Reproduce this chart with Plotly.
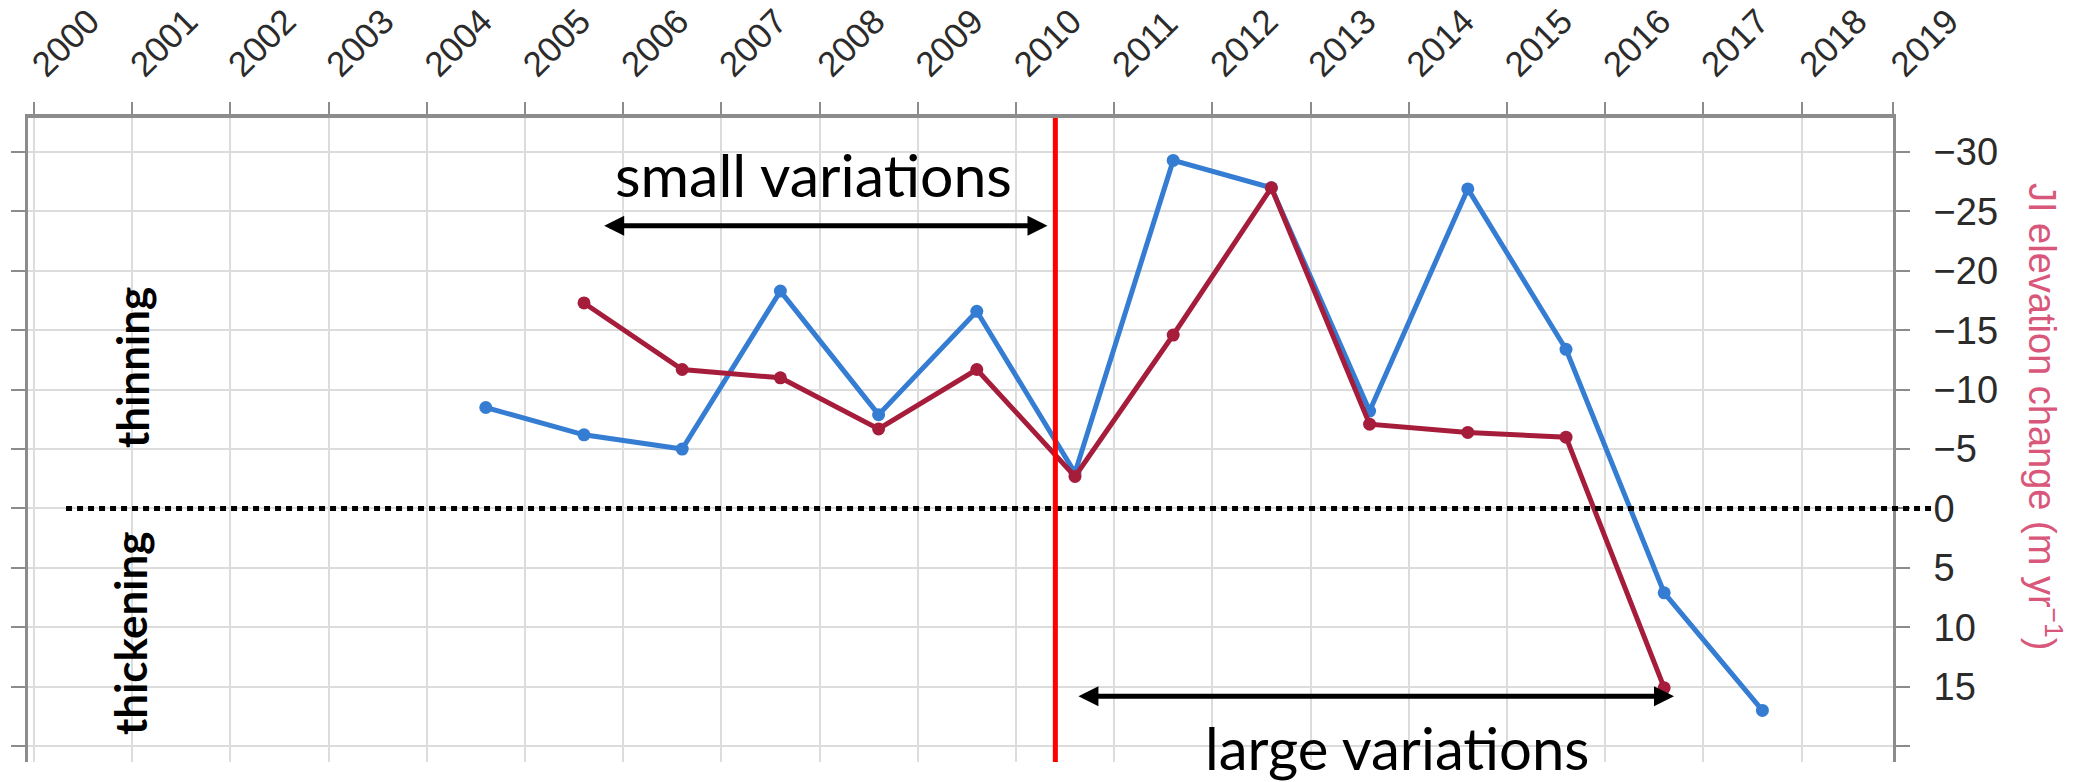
import plotly.graph_objects as go

# Annual elevation change (m/yr); negative = thinning, positive = thickening
blue_years = [2004.6, 2005.6, 2006.6, 2007.6, 2008.6, 2009.6, 2010.6,
              2011.6, 2012.6, 2013.6, 2014.6, 2015.6, 2016.6, 2017.6]
blue_change = [-8.5, -6.2, -5.0, -18.3, -7.9, -16.6, -3.0,
               -29.3, -27.0, -8.2, -26.9, -13.4, 7.1, 17.0]

red_years = [2005.6, 2006.6, 2007.6, 2008.6, 2009.6, 2010.6,
             2011.6, 2012.6, 2013.6, 2014.6, 2015.6, 2016.6]
red_change = [-17.3, -11.7, -11.0, -6.7, -11.7, -2.7,
              -14.6, -27.0, -7.1, -6.4, -6.0, 15.1]

year_labels = list(range(2000, 2020))
y_grid = [-30, -25, -20, -15, -10, -5, 0, 5, 10, 15, 20]
y_labeled = [-30, -25, -20, -15, -10, -5, 0, 5, 10, 15]

split_year = 2010.4          # regime change marker
small_span = (2005.79, 2010.32)
large_span = (2010.62, 2016.70)

BLUE = "#347dd3"
RED = "#a61d3c"
GRID = "#dcdcdc"
AXIS = "#8c8c8c"
TICK_FONT = dict(family="Liberation Sans", size=38, color="#2b2b2b")

x_range = [1999.938, 2018.93]
y_range = [21.34, -32.87]   # reversed: thinning plotted upward

fig = go.Figure()
fig.add_trace(go.Scatter(x=blue_years, y=blue_change, mode="lines+markers",
                         line=dict(color=BLUE, width=5),
                         marker=dict(color=BLUE, size=13)))
fig.add_trace(go.Scatter(x=red_years, y=red_change, mode="lines+markers",
                         line=dict(color=RED, width=5),
                         marker=dict(color=RED, size=13)))

x_tickvals = [min(max(y, x_range[0]), x_range[1]) for y in year_labels]
y_ticktext = [(("\u2212" + str(-v)) if v < 0 else str(v)) if v in y_labeled else ""
              for v in y_grid]

fig.update_layout(
    width=2080, height=782,
    margin=dict(l=28, r=187, t=118, b=20),
    paper_bgcolor="white", plot_bgcolor="white",
    showlegend=False,
    xaxis=dict(range=x_range, side="top", tickvals=x_tickvals, automargin=False,
               ticktext=[str(y) for y in year_labels], tickangle=-45,
               ticks="outside", ticklen=12, tickwidth=2, tickcolor=AXIS,
               ticklabelstandoff=4,
               showline=True, linecolor=AXIS, linewidth=4,
               showgrid=True, gridcolor=GRID, gridwidth=2, zeroline=False,
               tickfont=dict(TICK_FONT, size=35)),
    yaxis=dict(range=y_range, side="right", tickvals=y_grid, ticktext=y_ticktext,
               automargin=False,
               ticks="outside", ticklen=14, tickwidth=2, tickcolor=AXIS,
               ticklabelstandoff=16,
               showline=True, linecolor=AXIS, linewidth=3, mirror="ticks",
               showgrid=True, gridcolor=GRID, gridwidth=2, zeroline=False,
               tickfont=TICK_FONT),
)

# zero line separating thinning from thickening
fig.add_shape(type="line", xref="paper", yref="y", x0=0.0204, x1=1.0209, y0=0, y1=0,
              line=dict(color="black", width=5, dash="6px,5px"))
# regime split
fig.add_shape(type="line", xref="x", yref="paper", x0=split_year, x1=split_year,
              y0=0, y1=1.0, line=dict(color="#ff0000", width=5))

ann_font = dict(family="Lato", color="black")
fig.add_annotation(x=small_span[1], y=-23.8, ax=small_span[0], ay=-23.8,
                   xref="x", yref="y", axref="x", ayref="y", text="",
                   showarrow=True, arrowside="end+start", arrowhead=2,
                   arrowsize=0.8, arrowwidth=5, arrowcolor="black")
fig.add_annotation(x=large_span[1], y=15.8, ax=large_span[0], ay=15.8,
                   xref="x", yref="y", axref="x", ayref="y", text="",
                   showarrow=True, arrowside="end+start", arrowhead=2,
                   arrowsize=0.8, arrowwidth=5, arrowcolor="black")
fig.add_annotation(x=2007.94, y=-28.1, xref="x", yref="y", text="small variations",
                   showarrow=False, xanchor="center", yanchor="middle",
                   font=dict(size=59, **ann_font))
fig.add_annotation(x=2013.88, y=20.1, xref="x", yref="y", text="large variations",
                   showarrow=False, xanchor="center", yanchor="middle",
                   font=dict(size=58, **ann_font))

fig.add_annotation(x=(132 - 28) / 1865, y=(762 - 368) / 644, xref="paper", yref="paper",
                   text="<b>thinning</b>", textangle=-90, showarrow=False,
                   xanchor="center", yanchor="middle",
                   font=dict(size=44, **ann_font))
fig.add_annotation(x=(130 - 28) / 1865, y=(762 - 634) / 644, xref="paper", yref="paper",
                   text="<b>thickening</b>", textangle=-90, showarrow=False,
                   xanchor="center", yanchor="middle",
                   font=dict(size=44, **ann_font))

fig.add_annotation(x=(2045 - 28) / 1865, y=(762 - 417) / 644, xref="paper", yref="paper",
                   text="JI elevation change (m yr<sup>\u22121</sup>)", textangle=90,
                   showarrow=False, xanchor="center", yanchor="middle",
                   font=dict(family="Liberation Sans", size=38, color="#d9577a"))

fig.write_html("out.html")
